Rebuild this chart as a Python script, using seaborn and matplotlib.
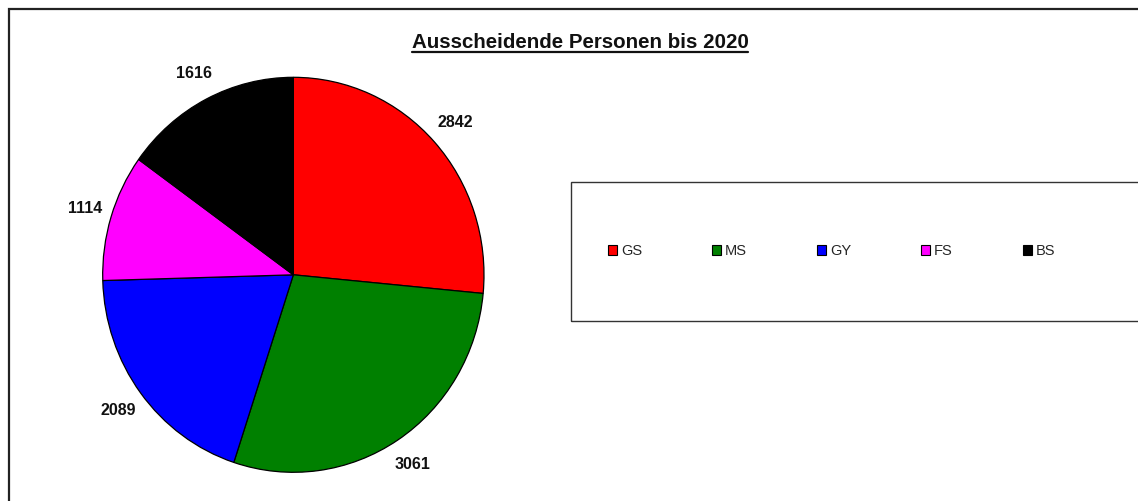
import matplotlib
matplotlib.use("Agg")
import matplotlib.pyplot as plt
import seaborn as sns
from matplotlib.patches import Patch, Rectangle
from matplotlib.lines import Line2D

categories = ["GS", "MS", "GY", "FS", "BS"]
values = [2842, 3061, 2089, 1114, 1616]
colors = ["#FF0000", "#008000", "#0000FF", "#FF00FF", "#000000"]
title = "Ausscheidende Personen bis 2020"

sns.set_theme(style="white")
plt.rcParams["font.family"] = ["Liberation Sans", "DejaVu Sans"]

W, H = 1138, 501
fig = plt.figure(figsize=(W / 100, H / 100), dpi=100)
fig.patch.set_facecolor("white")

# outer chart border (extends beyond the right/bottom edges)
fig.add_artist(Rectangle((8.5 / W, -0.1), 1.2, 1 - 9 / H + 0.1, transform=fig.transFigure,
                         fill=False, edgecolor="#222222", linewidth=1.6, clip_on=False))

# pie axes
ax = fig.add_axes([102.7 / W, (H - 472.3) / H, 381.3 / W, 395 / H])
wedges, texts = ax.pie(values, labels=[str(v) for v in values], colors=colors,
                       startangle=90, counterclock=False, labeldistance=1.145,
                       wedgeprops=dict(edgecolor="black", linewidth=0.9),
                       textprops=dict(fontsize=11.5, fontweight="bold", color="#111111"))
for t in texts:
    t.set_ha("center")
    t.set_va("center")
ax.set_aspect("auto")
ax.set_xlim(-1, 1)
ax.set_ylim(-1, 1)
ax.axis("off")

# title with underline
tt = fig.text(580 / W, (H - 47.5) / H, title, ha="center", va="baseline",
              fontsize=14.8, fontweight="bold", color="#111111")
fig.canvas.draw()
bb = tt.get_window_extent()
uy = bb.y0 - 0.5
fig.add_artist(Line2D([bb.x0 / W, bb.x1 / W], [uy / H, uy / H], transform=fig.transFigure,
                      color="#111111", linewidth=1.6))

# legend frame (extends beyond the right edge)
fig.add_artist(Rectangle((571 / W, (H - 321) / H), 0.6, (321 - 182) / H, transform=fig.transFigure,
                         fill=False, edgecolor="#333333", linewidth=1.0, clip_on=False))

handles = [Patch(facecolor=c, edgecolor="black", linewidth=0.8) for c in colors]
fig.legend(handles, categories, loc="center left", bbox_to_anchor=(608 / W, (H - 251) / H),
           ncol=5, frameon=False, fontsize=10.5, handlelength=0.62, handleheight=0.62,
           handletextpad=0.27, columnspacing=4.8, borderpad=0, borderaxespad=0)

fig.savefig("out.png", dpi=100)
